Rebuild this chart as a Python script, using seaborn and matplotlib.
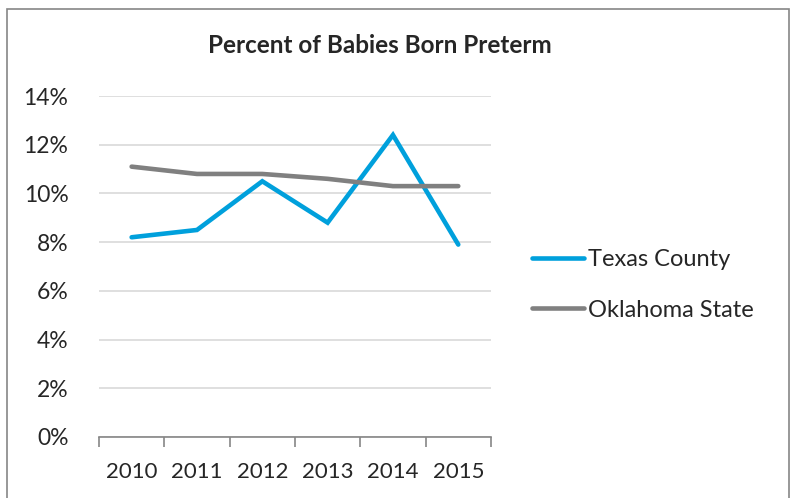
import pandas as pd
import numpy as np
import seaborn as sns
import matplotlib.pyplot as plt
from matplotlib.patches import Rectangle
from matplotlib.ticker import FixedLocator, PercentFormatter

years = ["2010", "2011", "2012", "2013", "2014", "2015"]
texas_county = [8.2, 8.5, 10.5, 8.8, 12.4, 7.9]
oklahoma_state = [11.1, 10.8, 10.8, 10.6, 10.3, 10.3]

df = pd.DataFrame({
    "Year": years * 2,
    "Percent": texas_county + oklahoma_state,
    "Area": ["Texas County"] * 6 + ["Oklahoma State"] * 6,
})

sns.set_style("white")
plt.rcParams['font.family'] = ['Lato', 'DejaVu Sans']

fig = plt.figure(figsize=(7.93, 4.98), dpi=100)
ax = fig.add_axes([0.1248, 0.1225, 0.4943, 0.6847])

sns.lineplot(data=df, x="Year", y="Percent", hue="Area",
             palette={"Texas County": "#00a0dc", "Oklahoma State": "#808080"},
             linewidth=3.3, ax=ax, sort=False)
for ln in ax.get_lines():
    ln.set_solid_capstyle("round")
    ln.set_solid_joinstyle("miter")

ax.set_ylim(0, 14)
ax.set_xlim(-0.5, 5.5)
ax.set_yticks(range(0, 15, 2))
ax.yaxis.set_major_formatter(PercentFormatter(decimals=0))
ax.grid(axis="y", color="#d9d9d9", linewidth=1.2)
ax.set_axisbelow(True)
for s in ["top", "right", "left"]:
    ax.spines[s].set_visible(False)
ax.spines["bottom"].set_color("#868686")
ax.spines["bottom"].set_linewidth(1.2)

ax.tick_params(axis="x", which="major", length=0, pad=18, labelsize=16)
ax.xaxis.set_minor_locator(FixedLocator(np.arange(-0.5, 6, 1)))
ax.tick_params(axis="x", which="minor", bottom=True, length=7, width=1.2,
               color="#868686", direction="out")
ax.tick_params(axis="y", length=0, pad=22, labelsize=16.5)
ax.set_xlabel("")
ax.set_ylabel("")

fig.text(0.479, 0.909, "Percent of Babies Born Preterm", ha="center", va="center",
         fontsize=17.5, fontweight="bold")

handles, labels = ax.get_legend_handles_labels()
ax.legend(handles, labels, loc="center left", bbox_to_anchor=(1.05, 0.446),
          frameon=False, fontsize=17, handlelength=2.2, handletextpad=0.2,
          labelspacing=1.25)

fig.patches.append(Rectangle((7 / 793, -0.1), 782 / 793, 1 - 9 / 498 + 0.1,
                             transform=fig.transFigure, fill=False,
                             edgecolor="#868686", linewidth=1.2))

fig.savefig("out.png", dpi=100)
